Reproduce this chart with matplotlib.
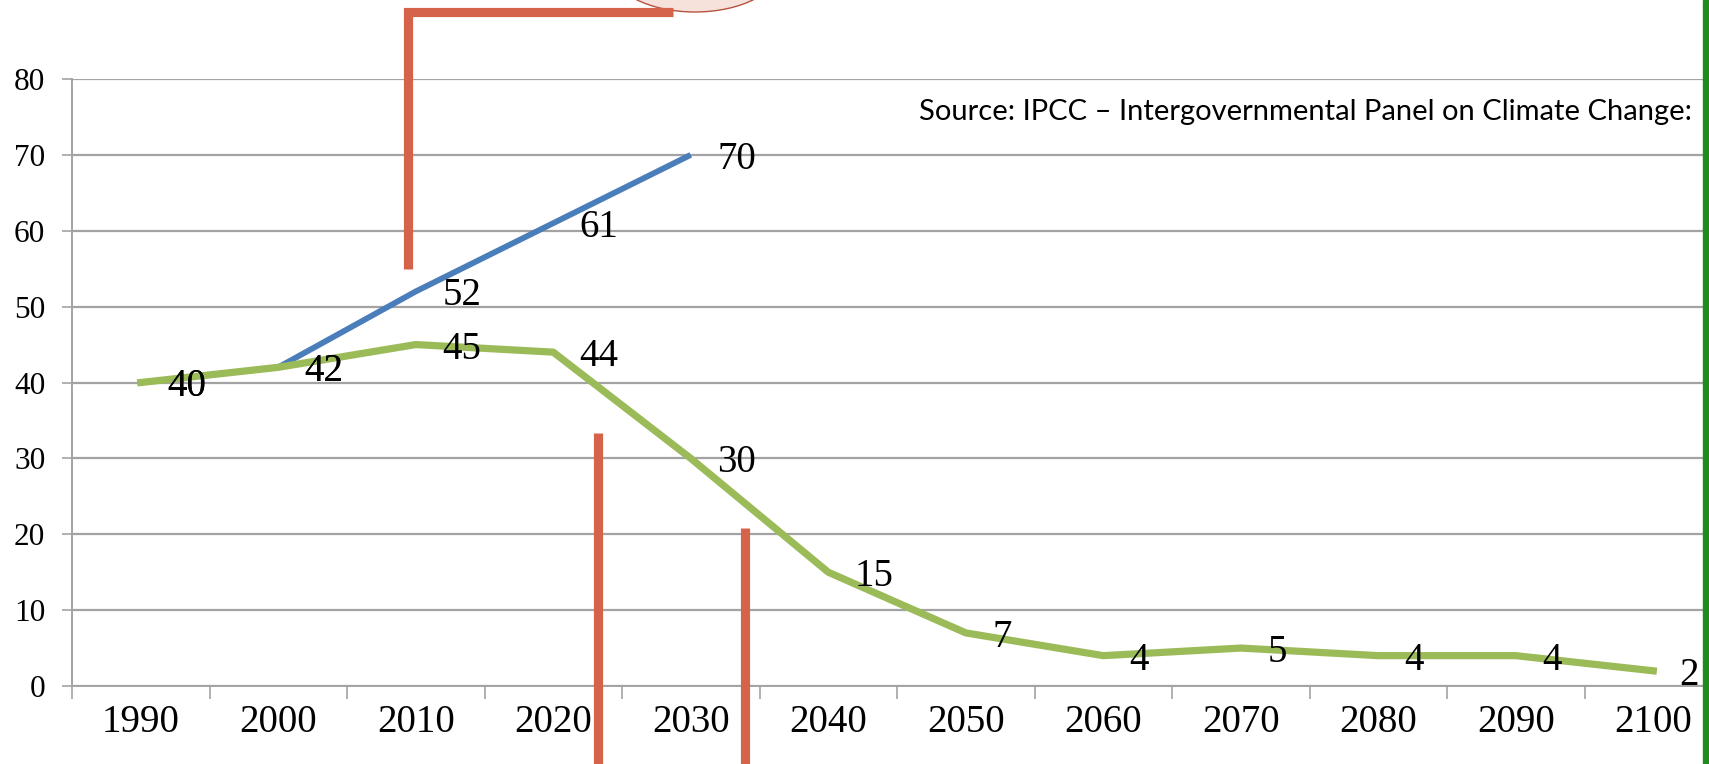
import matplotlib
matplotlib.use("Agg")
import matplotlib.pyplot as plt
from matplotlib.lines import Line2D
from matplotlib.patches import Ellipse, Rectangle

W, H = 1709, 764

years = ["1990", "2000", "2010", "2020", "2030", "2040",
         "2050", "2060", "2070", "2080", "2090", "2100"]
trend = [40, 42, 52, 61, 70]
target = [40, 42, 45, 44, 30, 15, 7, 4, 5, 4, 4, 2]
y_ticks = [0, 10, 20, 30, 40, 50, 60, 70, 80]

BLUE = "#4a7ebb"
GREEN = "#9bbb59"
RED = "#d5634a"
GRID = "#a3a3a3"
SERIF = "Liberation Serif"

fig = plt.figure(figsize=(W / 100, H / 100), dpi=100)
fig.patch.set_facecolor("white")

# axes run slightly past the right edge, the slide border covers the rest
ax = fig.add_axes([72 / W, 78 / H, 137.5 * 12 / W, 607 / H])

x_all = list(range(len(years)))
ax.plot(x_all[:len(trend)], trend, color=BLUE, lw=4.2, solid_capstyle="butt", zorder=3)
ax.plot(x_all, target, color=GREEN, lw=5.2, solid_joinstyle="round", zorder=4)

for series, xs in ((trend, x_all[:len(trend)]), (target, x_all)):
    for x, v in zip(xs, series):
        ax.annotate(str(v), (x, v), xytext=(19, 0), textcoords="offset points",
                    ha="left", va="center_baseline", fontsize=28,
                    family=SERIF, color="black", zorder=6)

ax.set_xlim(-0.5, len(years) - 0.5)
ax.set_ylim(0, 80)
ax.set_yticks(y_ticks)
ax.set_yticklabels([str(t) for t in y_ticks], family=SERIF, fontsize=22.5)
ax.set_xticks(x_all)
ax.set_xticklabels(years, family=SERIF, fontsize=28)
ax.set_xticks([i - 0.5 for i in range(len(years) + 1)], minor=True)
ax.tick_params(axis="x", which="major", length=0, pad=13)
ax.tick_params(axis="x", which="minor", length=9, width=1.2, color=GRID, direction="out")
ax.tick_params(axis="y", length=7.2, width=1.2, color=GRID, pad=12)

ax.grid(axis="y", color=GRID, lw=1.6)
ax.set_axisbelow(True)
for side in ("top", "right"):
    ax.spines[side].set_visible(False)
for side in ("left", "bottom"):
    ax.spines[side].set_color(GRID)
    ax.spines[side].set_linewidth(1.4)

fig.text(1692 / W, 1 - 120 / H,
         "Source: IPCC \u2013 Intergovernmental Panel on Climate Change:",
         ha="right", va="baseline", fontsize=21, family="Lato", color="black")


def px(x, y):
    return x / W, 1 - y / H


# hand-drawn markers on top of the chart
marks = [
    [(407.5, 269), (407.5, 11.5), (673, 11.5)],
    [(598, 433), (598, 764)],
    [(745, 528), (745, 764)],
]
for pts in marks:
    xs, ys = zip(*[px(*p) for p in pts])
    fig.add_artist(Line2D(xs, ys, color=RED, lw=6.6, solid_capstyle="butt",
                          solid_joinstyle="miter", transform=fig.transFigure, zorder=10))

fig.add_artist(Ellipse(px(695, -33), 170 / W, 90 / H, transform=fig.transFigure,
                       facecolor="#f6e1db", edgecolor="#b5533f", lw=1.0, zorder=9))

fig.add_artist(Rectangle((1703 / W, 0), 6 / W, 1, transform=fig.transFigure,
                         color="#1e8c1e", zorder=11))

fig.savefig("out.png", dpi=100)
